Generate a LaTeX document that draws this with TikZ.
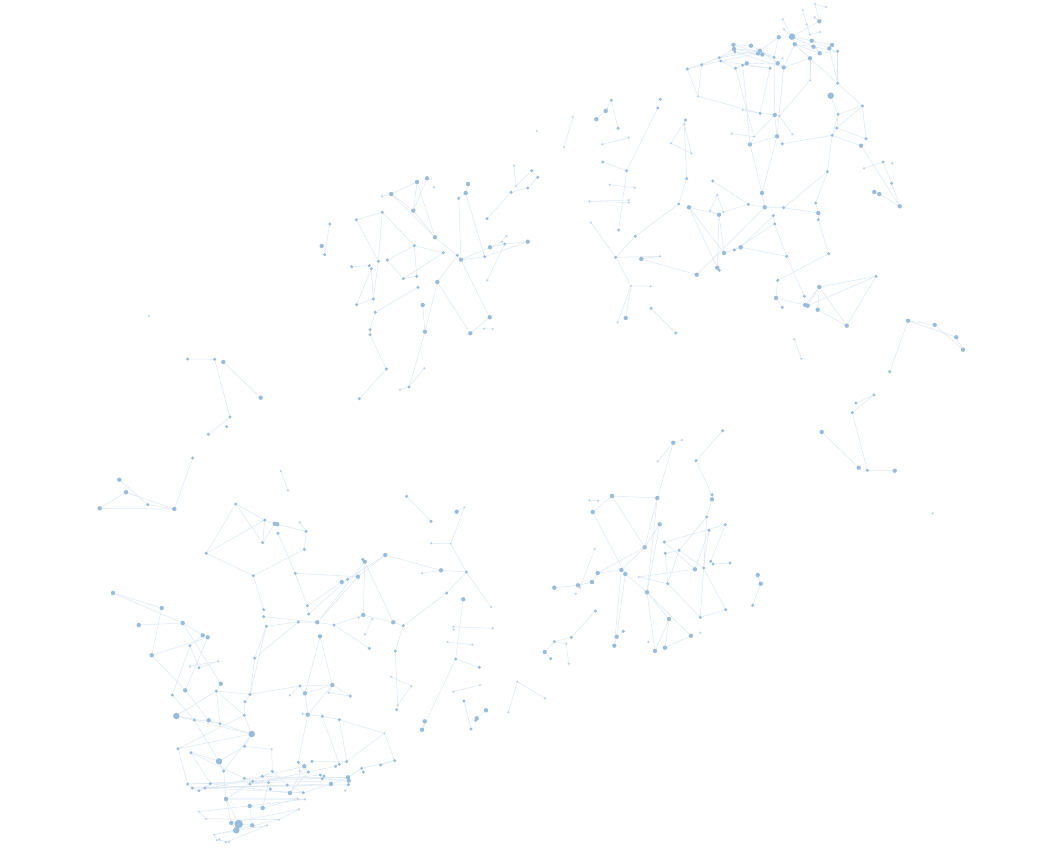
\documentclass[tikz,border=0pt]{standalone}
\usetikzlibrary{backgrounds}
\definecolor{nodecol}{RGB}{152,188,219}
\definecolor{tinycol}{RGB}{184,208,230}
\definecolor{edgecol}{RGB}{218,230,242}
\tikzset{
 vbase/.style={circle,inner sep=0pt,outer sep=0pt,draw=none,fill=nodecol},
 vt/.style={vbase,minimum size=2.4pt,fill=tinycol},
 vs/.style={vbase,minimum size=3.4pt},
 vm/.style={vbase,minimum size=4.4pt},
 vl/.style={vbase,minimum size=6.5pt},
 vx/.style={vbase,minimum size=8.5pt},
 edge/.style={draw=edgecol,line width=0.5pt}
}
\begin{document}
\begin{tikzpicture}[x=1pt,y=-1pt]
\useasboundingbox (0,0) rectangle (1039,851);
% ---------- nodes: top-right cluster
\foreach \n/\x/\y/\s in {a1/819.3/21.3/vm, a2/802.7/10/vt, a3/815/4/vt, a4/826/7/vt, a5/814.7/17.3/vt, a6/782.7/19.3/vt, a7/806.7/24.3/vt, a8/784/29.3/vt, a9/820/32/vt, a10/792/36.7/vl, a11/778.7/37.3/vm, a12/810/34.5/vt, a13/811.7/40.7/vm, a14/794.7/44.3/vm, a15/813.5/46.7/vm, a16/829.3/48.5/vm, a17/832/45/vm, a18/837.7/51.3/vs, a19/819.7/53.3/vm, a20/810/58.3/vm, a21/783.7/67.5/vm, a22/777.7/63.2/vm, a23/782.5/58.5/vt, a24/774/57.3/vs, a25/770/68.3/vs, a26/760/50.7/vm, a27/758/53.5/vm, a28/762.3/54.5/vm, a29/751/45.7/vm, a30/733.5/44.8/vm, a31/734/49/vm, a32/735/52/vs, a33/719.3/57.7/vs, a34/720.7/61/vs, a35/701.5/64.7/vs, a36/687.3/69/vs, a37/735.5/68.2/vs, a38/742.7/65.2/vs, a39/746.7/63.3/vm, a40/698/96.3/vt, a41/810/80.3/vt, a42/837.7/83.3/vs, a43/830.7/95.7/vl, a44/862.3/106/vs, a45/742.7/110/vt, a46/760/113.3/vs, a47/774.7/115/vm, a48/779.3/116/vt, a49/838/114.3/vs, a50/836.7/128/vs, a51/792.3/134.3/vt, a52/777/136.3/vm, a53/754/136.7/vt, a54/731.7/133.7/vt, a55/750/144.5/vm, a56/782.3/143.8/vs, a57/832.2/135.3/vs, a58/866/138.7/vs, a59/861/145.7/vm, a60/685.3/120/vs, a61/684.3/124.3/vt, a62/691.3/153.3/vt, a63/671/143.3/vt}
  \node[\s] (\n) at (\x,\y) {};
% ---------- nodes: middle-right
\foreach \n/\x/\y/\s in {b1/611.3/100.3/vs, b2/605.7/111/vm, b3/607/109.3/vt, b4/596.3/119.3/vm, b5/660.3/99.3/vs, b6/657.7/108/vs, b7/618/128.3/vs, b8/628.7/137.7/vt, b9/602.3/144.3/vt, b11/602.7/162/vs, b12/626.7/170.7/vs, b13/609.7/184.7/vt, b14/634.7/187.7/vt, b15/589.3/201.3/vt, b16/628.7/200/vt, b17/628.7/202.7/vt, b18/686.7/178.7/vs, b19/712.7/181/vs, b20/762/193/vm, b21/827.3/171.7/vs, b22/883/162/vs, b23/892.3/163.3/vt, b24/864/168.3/vt, b25/891.7/183.3/vs, b26/874.3/192/vm, b27/879.3/194/vm, b28/899.7/206.3/vm, b29/591/222.7/vt, b30/618.7/230/vs, b31/635.3/236.3/vs, b32/678.7/204/vs, b33/689/207.3/vm, b34/717.3/195/vt, b35/710/210.7/vt, b36/719/214.7/vm, b37/723.3/212/vt, b38/748.3/204.3/vs, b39/764.7/207.3/vm, b40/783.7/207.7/vs, b41/815.7/203/vs, b42/818.3/213/vm, b43/818.3/219.7/vs, b44/773.3/215.7/vs, b45/774.7/224/vs, b46/724/253/vm, b47/734.3/250/vs, b48/740.7/247.3/vm, b49/717.3/267.7/vm, b50/719.3/270.3/vs, b51/696.7/274.7/vm, b52/786.7/256.3/vs, b53/828.7/253.7/vs, b54/615.7/257.3/vs, b55/641.3/259/vm, b56/660/256.3/vt, b57/631/286/vt, b58/650.7/286.3/vt, b59/651/308.3/vs, b60/625.7/318/vm, b61/617.7/322.3/vt, b62/675.7/333/vs, b63/777.7/280.3/vs, b64/776/298/vm, b65/782.3/307.3/vs, b66/804.3/296.3/vs, b67/819.3/287/vm, b68/805.3/305/vm, b69/807.7/305.7/vm, b70/817.7/309.7/vm, b71/846.7/325.7/vm, b72/876/276.3/vs, b73/794.3/339.3/vt, b74/801.3/358.7/vt, b75/908/320.7/vm, b76/934.7/325/vm, b77/956.3/337.3/vm, b78/963/349.7/vm, b79/889.7/371.7/vs, b80/874/395/vs, b81/856/403/vs, b82/852.3/412.7/vs, b83/821.7/432/vm, b84/858.7/467.7/vm, b85/867.3/470.3/vs, b86/894.7/470.7/vm, b87/932.7/513.3/vt, b88/537/131/vt, b89/564/147/vt, b90/573/117/vt, b91/149/316/vt}
  \node[\s] (\n) at (\x,\y) {};
% ---------- nodes: upper-middle cluster
\foreach \n/\x/\y/\s in {c1/514/165.7/vt, c2/531.7/170.7/vs, c3/537.7/177.3/vs, c4/516/186/vt, c5/527.7/188/vs, c6/511/192.3/vs, c7/487/218.7/vs, c8/417/182/vm, c9/427/178.3/vm, c10/434/187.3/vt, c11/391.3/194/vm, c12/382/196.3/vt, c13/468/184/vm, c14/465.7/193/vm, c15/458.7/198.3/vs, c16/413.3/210.7/vm, c17/382.3/212.3/vs, c18/356.3/219.7/vs, c19/329.7/224/vs, c20/321.7/246/vm, c21/324.7/254.7/vs, c22/435/237.3/vm, c23/506.3/236/vt, c24/502/241.7/vt, c25/527.7/241.7/vm, c26/504.7/244/vs, c27/490/247.3/vm, c28/414.3/245.7/vs, c29/443.3/252.7/vs, c30/457.3/255.3/vs, c31/461/259.7/vm, c32/484.7/256.7/vs, c33/387.3/260/vs, c34/378.3/261.3/vs, c35/351.7/266.7/vs, c36/369.3/265.7/vs, c37/371.3/268.7/vs, c38/416.7/276.3/vs, c39/403.3/278.7/vs, c40/418/287.3/vs, c41/437.3/282/vm, c42/487.3/280.3/vt, c43/373.3/299/vs, c44/356.7/304.7/vs, c45/375.3/312.3/vs, c46/422.7/305/vm, c47/489.7/317.3/vm, c48/484/328.7/vt, c49/492.7/329/vt, c50/370/329.7/vs, c51/370/334.7/vs, c52/425/331.7/vm, c53/470.3/333.3/vm, c54/386.3/369/vs, c55/424.3/368.3/vt, c56/409/387/vs, c57/400/389.7/vt, c58/359.3/398.7/vs}
  \node[\s] (\n) at (\x,\y) {};
% ---------- nodes: left chains
\foreach \n/\x/\y/\s in {d1/187.7/359/vs, d2/214.7/359.3/vs, d3/223.3/362/vm, d4/260.7/397.7/vm, d5/230/417/vs, d6/226.7/426.7/vs, d7/208.3/434.3/vs, d8/192.7/458/vs, d9/119.3/479.7/vm, d10/126/492.3/vm, d11/147.7/504.7/vs, d12/99.7/508.3/vm, d13/174.3/509/vm}
  \node[\s] (\n) at (\x,\y) {};
% ---------- nodes: lower-left cluster
\foreach \n/\x/\y/\s in {e1/280.7/471/vt, e2/288/490.3/vt, e3/235.7/504/vs, e4/264.7/520/vs, e5/274.7/523.7/vm, e6/277.3/524.3/vm, e7/299.7/522.3/vt, e8/306/531.3/vs, e9/278/533.3/vs, e10/262.7/542.7/vs, e11/206.3/553.3/vs, e12/304.3/549.3/vs, e13/406.7/496.3/vs, e14/431/521.3/vs, e15/456.7/511.7/vm, e16/464.3/507.3/vt, e17/431.3/543.3/vt, e18/450.7/543.7/vt, e19/385.3/555/vm, e20/362.7/559.3/vs, e21/364.7/561.7/vm, e22/441/570.3/vm, e23/422/573.3/vt, e24/466.3/572/vs, e25/253.3/575.7/vs, e26/295.3/573.3/vs, e27/341.7/582/vm, e28/347.7/579.3/vs, e29/358/576.7/vm, e30/446.7/593/vs, e31/463.3/599.3/vm, e32/491/607/vt, e33/307.3/605.7/vs, e34/308.7/614/vs, e35/263.7/609.7/vs, e36/263.7/616.7/vs, e37/266.3/626.3/vs, e38/298.3/622/vs, e39/317.3/622.3/vm, e40/334/625/vs, e41/363.3/615/vm, e42/358.7/617.7/vt, e43/372.3/619/vt, e44/365/634.3/vt, e45/393.3/622.3/vm, e46/403.3/625.7/vs, e47/369.3/648.3/vs, e48/320/636.3/vm, e49/453.3/626.7/vt, e50/453.7/629.7/vt, e51/492.7/628.3/vt, e52/447.7/642/vt, e53/472.3/644.7/vt, e54/395.3/651/vs, e55/455.7/659/vs, e56/479.3/667.3/vs, e57/254.7/658/vs, e58/391/676.7/vt, e59/411.3/686/vt, e60/397.7/705.3/vt, e61/396.7/709.7/vs, e62/220.7/683.7/vm, e63/216.3/691/vs, e64/300/686/vs, e65/332.3/685/vm, e66/305/693.3/vm, e67/328.7/692.7/vt, e68/350.3/696/vs, e69/289.7/695.3/vt, e70/250/694.3/vs, e71/245/701.7/vs, e72/244.3/715.3/vs, e73/302.7/713.7/vt, e74/307.7/714.7/vm, e75/322.3/716.3/vs, e76/339.3/719.7/vs, e77/384.3/733.3/vt, e78/517.3/681.7/vt, e79/508.3/712.3/vt, e80/545/698.3/vt, e81/453.3/691.7/vt, e82/480/685/vt, e83/464/701/vs, e84/486/710.3/vm, e85/476.7/718.3/vm, e86/475.7/720.3/vs, e87/471/729/vs, e88/424.7/721.3/vm, e89/422/729.7/vm, e90/194.3/720/vs, e91/208.7/720.3/vm, e92/220/723.7/vs, e93/251.7/734/vl, e94/202.7/635.3/vm, e95/207.7/637.3/vm, e96/190/645.7/vs, e97/218.3/661.3/vt, e98/199/667.7/vs, e99/113/593/vm, e100/161.7/608/vm, e101/138.7/625/vm, e102/182.7/623/vm, e104/151.7/655.3/vm, e105/190/666.3/vt, e106/185.3/690.3/vm, e107/172.3/695/vs, e108/176.3/716/vl, e109/178/748.7/vs, e110/191/752.7/vs, e111/219/761.3/vl, e112/244.7/746.3/vs, e113/271.7/749.3/vt, e114/223.7/771/vs, e115/272.3/771.3/vs, e116/262.3/776.3/vs, e117/244.3/778.3/vs, e118/252.7/781.3/vs, e119/250/784/vs, e120/268.5/782.5/vs, e121/187.7/784/vs, e122/192.3/788/vs, e123/210.3/783.7/vs, e124/205/788/vs, e125/199/790.7/vs, e126/226/799/vm, e127/249.7/806/vm, e128/262.7/808/vm, e129/238.7/824/vx, e130/236.3/830.3/vl, e131/231.3/823/vm, e132/252.3/825.3/vm, e133/214.3/834.7/vt, e134/219.3/839.3/vt, e135/226/842.3/vt, e136/216.7/840/vt, e137/229/842/vt, e141/394.7/760.7/vs, e142/380.7/765/vs, e143/361.7/768.3/vs, e144/363.3/772/vs, e145/346.7/761.5/vs, e146/339.3/764.3/vs, e147/335.7/766.3/vs, e148/312/761.3/vs, e149/298.3/762.3/vs, e150/304.3/766.3/vm, e151/308.3/772/vs, e152/320.3/775/vs, e153/324/776/vs, e154/322.3/778.7/vs, e155/331/784/vm, e156/348/777.3/vm, e157/348.7/780.7/vm, e158/348.3/784.7/vs, e159/299.7/771/vt, e160/287.3/785/vs, e161/290/793/vm, e162/303.3/792.7/vs, e163/345.3/790.7/vt, e164/297.7/798.7/vt, e165/305/799.3/vt, e166/299/809.3/vt, e167/279/819.7/vt, e168/267/825.3/vt, e169/206/818.7/vt, e170/199/811.7/vt, e171/270.3/789/vs}
  \node[\s] (\n) at (\x,\y) {};
% ---------- nodes: lower-right cluster
\foreach \n/\x/\y/\s in {f1/722.7/430.7/vs, f2/673.3/442.7/vm, f3/682/440/vt, f4/657.7/461.3/vt, f5/696/460.7/vs, f6/612/496/vm, f7/657.3/498/vm, f8/589.3/500.3/vt, f9/598/500.7/vt, f10/592.7/512/vm, f11/712/494.7/vs, f12/712/499.3/vm, f13/706.7/517/vs, f14/725.3/524.7/vs, f15/659.7/524.3/vm, f16/709/530.3/vs, f17/664.3/542/vs, f18/644.7/547.3/vm, f19/679/550.3/vs, f20/665.3/553.3/vs, f21/594.7/549/vt, f22/710.7/561.3/vs, f23/713/564/vs, f24/730/563/vs, f25/695/569.3/vm, f26/703.7/568/vs, f27/621.3/570/vm, f28/625.3/574/vm, f29/597.7/573/vm, f30/638.7/577/vt, f31/592/582/vm, f32/578/585.3/vm, f33/580/587.7/vt, f34/554.3/587.7/vm, f35/667.7/583.7/vs, f36/575.7/593.7/vt, f37/647/592.3/vm, f38/757.7/575/vm, f39/760.7/583.7/vm, f40/752.7/605.3/vs, f41/725.7/609.7/vs, f42/700.3/617.3/vs, f43/595.3/611/vs, f44/669/619/vm, f45/623.3/631.3/vs, f46/700.3/632.7/vt, f47/616.7/636.7/vm, f48/614.3/645.7/vm, f49/691/635.7/vm, f50/571.3/637.3/vs, f51/554.3/641.7/vs, f52/566.3/643.7/vt, f53/648.3/642/vt, f54/665/647.7/vm, f55/655/651/vm, f56/544.7/652/vm, f57/550.7/658.7/vs, f58/568.7/663.7/vt}
  \node[\s] (\n) at (\x,\y) {};
% ---------- edges
\begin{pgfonlayer}{background}
\foreach \a/\b in {a36/a35, a35/a33, a35/a32, a36/a34, a33/a26, a34/a27, a32/a28, a30/a29, a31/a26, a30/a24, a31/a27, a37/a39, a38/a25, a39/a22, a32/a21, a34/a25, a29/a24, a26/a22, a33/a31, a34/a37, a36/a40, a40/a35, a40/a46, a11/a10, a10/a13, a10/a15, a14/a15, a13/a16, a13/a17, a15/a18, a14/a19, a14/a20, a19/a18, a17/a16, a20/a21, a21/a22, a23/a22, a8/a10, a6/a10, a2/a7, a1/a5, a1/a3, a3/a4, a7/a12, a9/a12, a1/a10, a11/a26, a11/a24, a14/a21, a24/a47, a21/a52, a25/a46, a37/a53, a38/a55, a20/a42, a18/a42, a42/a44, a44/a58, a49/a44, a50/a44, a49/a50, a50/a58, a50/a57, a20/a41, a41/a48, a47/a48, a47/a52, a47/a46, a52/a55, a52/a56, a48/a51, a45/a46, a53/a55, a54/a53, a47/a53, a56/a57, a43/a49, a49/a57, a60/a61, a61/a62, a60/a63, a63/a62, a16/a42, a57/a59, a13/a19, a15/a19}
  \draw[edge] (\a) -- (\b);
\foreach \a/\b in {b1/b2, b2/b3, b1/b7, b4/b3, b9/b8, b5/b6, b6/b12, b11/b12, b12/b30, b13/b14, b15/b16, b15/b17, a61/b18, b18/b32, b32/b31, b31/b54, b29/b54, b54/b57, b57/b58, b57/b61, b57/b60, b54/b56, b55/b56, b55/b51, b59/b62, b19/b38, b34/b35, b34/b37, b35/b36, b33/b36, b33/b46, b33/b49, b36/b49, b36/b46, b37/b38, b38/b39, b39/b40, b40/b42, b20/a52, b20/a55, b40/b21, b21/b41, b42/b43, b39/b51, b44/b48, b45/b47, b44/b45, b45/b52, b48/b52, b49/b50, b46/b47, b43/b53, b53/b63, b52/b66, b20/b39, a57/b21, b22/b24, b22/b25, b25/b28, b26/b27, b27/b28, a59/b28, b63/b64, b64/b65, b64/b68, b67/b68, b67/b69, b67/b70, b67/b71, b67/b72, b72/b69, b72/b71, b70/b71, b73/b74, b75/b76, b75/b77, b76/b78, b77/b78, b75/b79, b80/b82, b80/b81, b82/b85, b83/b84, b85/b86, b90/b89, b41/b42, b46/b48}
  \draw[edge] (\a) -- (\b);
\foreach \a/\b in {c1/c4, c2/c4, c2/c3, c3/c5, c5/c6, c6/c7, c8/c11, c8/c16, c9/c16, c11/c16, c11/c22, c8/c22, c16/c22, c22/c30, c13/c14, c14/c15, c15/c31, c14/c32, c18/c17, c17/c34, c17/c28, c18/c34, c19/c21, c23/c24, c25/c26, c26/c27, c27/c31, c31/c32, c30/c31, c26/c42, c31/c47, c30/c41, c28/c29, c28/c38, c33/c28, c33/c39, c35/c36, c36/c37, c39/c38, c39/c29, c40/c45, c37/c44, c43/c44, c45/c50, c50/c51, c52/c56, c55/c56, c56/c57, c51/c54, c54/c58, c41/c52, c41/c53, c46/c52, c53/c47, c48/c49, c34/c43, c12/c11, c32/c25, c24/c27, c37/c43}
  \draw[edge] (\a) -- (\b);
\foreach \a/\b in {d1/d2, d2/d5, d3/d4, d5/d7, d8/d13, d9/d11, d11/d13, d10/d12, d12/d13, d10/d13}
  \draw[edge] (\a) -- (\b);
\foreach \a/\b in {e1/e2, e3/e4, e3/e11, e3/e10, e4/e10, e4/e5, e4/e11, e5/e6, e6/e8, e5/e10, e8/e12, e7/e8, e9/e26, e12/e25, e25/e35, e26/e33, e26/e29, e33/e34, e33/e27, e34/e28, e28/e19, e27/e28, e29/e19, e20/e21, e21/e41, e21/e45, e19/e22, e22/e23, e22/e24, e14/e13, e15/e16, e16/e18, e17/e18, e18/e24, e24/e30, e24/e32, e30/e46, e31/e55, e55/e56, e46/e54, e54/e60, e58/e59, e59/e60, e36/e39, e37/e38, e38/e39, e39/e40, e40/e41, e42/e41, e41/e45, e40/e47, e43/e44, e39/e21, e39/e29, e37/e57, e38/e57, e57/e70, e48/e65, e48/e66, e65/e66, e64/e66, e65/e67, e67/e68, e64/e69, e66/e74, e74/e73, e74/e75, e75/e76, e76/e77, e65/e74, e70/e71, e71/e72, e62/e63, e72/e93, e90/e91, e91/e92, e92/e93, e63/e92, e49/e51, e52/e53, e81/e82, e83/e87, e84/e85, e85/e86, e79/e78, e88/e89, e89/e55, e78/e80, e99/e102, e100/e104, e101/e102, e102/e94, e104/e95, e94/e95, e102/e62, e96/e98, e98/e97, e105/e97, e95/e106, e104/e106, e96/e107, e63/e108, e63/e70, e63/e72, e108/e93, e108/e92, e90/e111, e106/e91, e107/e90, e109/e72, e110/e111, e112/e111, e93/e112, e93/e114, e70/e37, e70/e64, e64/e65, e65/e68, e114/e126, e117/e118, e118/e126, e116/e115, e116/e119, e120/e119, e121/e122, e122/e125, e123/e124, e125/e123, e126/e129, e127/e128, e126/e131, e129/e130, e129/e132, e131/e130, e132/e127, e133/e136, e134/e135, e136/e137, e128/e120, e120/e171, e121/e156, e122/e155, e123/e161, e124/e160, e125/e150, e148/e150, e148/e145, e149/e150, e150/e151, e152/e153, e153/e154, e155/e156, e156/e157, e157/e158, e145/e146, e146/e147, e143/e144, e142/e141, e141/e143, e76/e145, e75/e146, e77/e141, e77/e145, e74/e149, e150/e161, e155/e162, e151/e161, e156/e143, e154/e157, e160/e162, e161/e162, e115/e160, e112/e113, e113/e115, e111/e114, e110/e117, e117/e156, e109/e93, e133/e167, e135/e168, e169/e170, e164/e165, e166/e167, e126/e164, e131/e166, e159/e149, e163/e158, e11/e25, e96/e94, e99/e100, e45/e46, e121/e157, e122/e158, e124/e162, e110/e123, e109/e121, e119/e147, e118/e152, e116/e154, e126/e165, e128/e164, e169/e167, e170/e165, e133/e168}
  \draw[edge] (\a) -- (\b);
\foreach \a/\b in {f1/f5, f2/f4, f2/f3, f2/f7, f5/f11, f6/f7, f6/f10, f8/f9, f6/f18, f7/f18, f7/f37, f10/f28, f15/f18, f18/f29, f18/f27, f21/f33, f29/f27, f29/f31, f31/f32, f32/f34, f33/f32, f28/f37, f28/f47, f27/f48, f47/f48, f37/f44, f37/f55, f37/f49, f44/f54, f44/f55, f54/f49, f17/f14, f17/f25, f19/f13, f19/f20, f20/f35, f19/f35, f16/f25, f16/f26, f13/f26, f12/f13, f14/f22, f22/f23, f23/f24, f26/f42, f26/f41, f42/f41, f25/f30, f30/f35, f35/f42, f38/f39, f39/f40, f43/f50, f50/f51, f51/f56, f56/f57, f52/f58, f51/f52, f45/f47, f11/f12, f15/f37, f27/f28, f19/f26}
  \draw[edge] (\a) -- (\b);
\end{pgfonlayer}
\end{tikzpicture}
\end{document}
